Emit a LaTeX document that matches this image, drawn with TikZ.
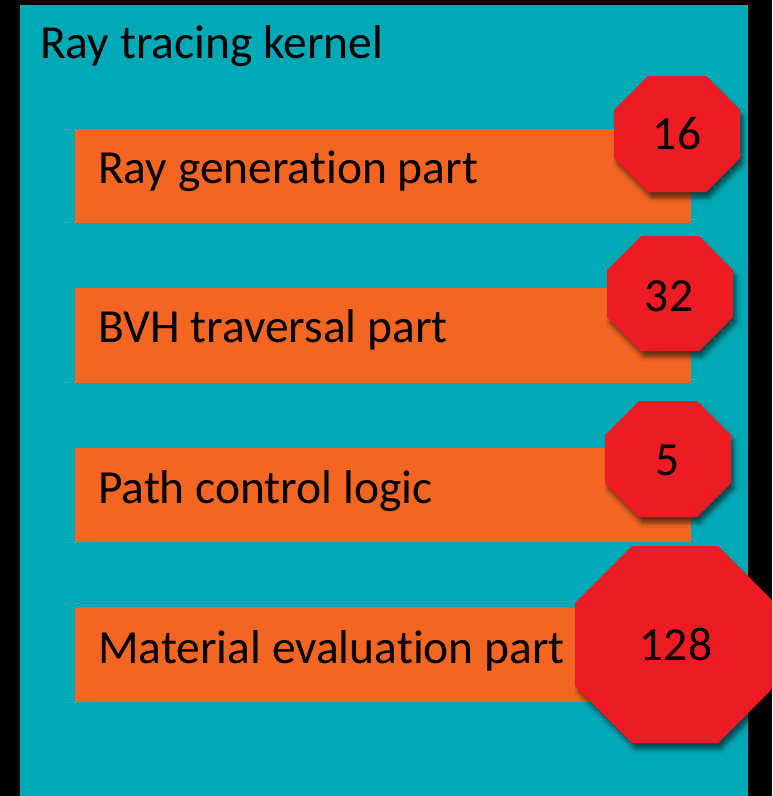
\documentclass[tikz,border=0pt]{standalone}
\usepackage{fontspec}
\setmainfont{Carlito}[Ligatures={NoCommon,NoContextual,NoRequired}]
\usetikzlibrary{shadows.blur}

\definecolor{kernelteal}{RGB}{0,169,181}
\definecolor{partorange}{RGB}{243,101,35}
\definecolor{countred}{RGB}{237,28,36}

\tikzset{
  kernelbox/.style={fill=kernelteal},
  partbar/.style={fill=partorange},
  bigtext/.style={anchor=base west, inner sep=0pt, text=black,
    font=\fontsize{47.5}{57}\selectfont},
  countshape/.style={fill=countred,
    blur shadow={shadow xshift=3pt, shadow yshift=-6pt,
      shadow blur radius=4pt, shadow opacity=55}},
  counttext/.style={anchor=base, inner sep=0pt, text=black,
    font=\fontsize{47.5}{57}\selectfont},
}

% octagon given by left, top, right, bottom and corner cut
\newcommand{\countoct}[5]{%
  \fill[countshape] (#1+#5,#2) -- (#3-#5,#2) -- (#3,#2+#5) -- (#3,#4-#5)
    -- (#3-#5,#4) -- (#1+#5,#4) -- (#1,#4-#5) -- (#1,#2+#5) -- cycle;}

\begin{document}
\begin{tikzpicture}[x=1pt,y=-1pt]
  % page and background
  \useasboundingbox (0,0) rectangle (772,796);
  \fill[black] (0,0) rectangle (772,796);
  \clip (0,0) rectangle (772,796);

  % kernel container
  \fill[kernelbox] (20,5) rectangle (748,796);
  \node[bigtext] (title) at (40,58) {Ray tracing kernel};

  % parts
  \fill[partbar] (75,129) rectangle (691,223);
  \fill[partbar] (75,288) rectangle (691,383);
  \fill[partbar] (75,448) rectangle (691,542);
  \fill[partbar] (75,607) rectangle (691,702);

  \node[bigtext] (raygen)   at (98,183)   {Ray generation part};
  \node[bigtext] (bvh)      at (98,342.5) {BVH traversal part};
  \node[bigtext] (pathctl)  at (98,503)   {Path control logic};
  \node[bigtext] (material) at (98,663)   {Material evaluation part};

  % counts
  \countoct{614}{76}{740}{192}{34}
  \countoct{607}{236}{733}{351}{34}
  \countoct{605}{401}{731}{517}{34}
  \countoct{575}{546}{775}{743}{57}

  \node[counttext] (n16)  at (677,149) {16};
  \node[counttext] (n32)  at (669,311) {32};
  \node[counttext] (n5)   at (668,475) {5};
  \node[counttext] (n128) at (676,660) {128};
\end{tikzpicture}
\end{document}
